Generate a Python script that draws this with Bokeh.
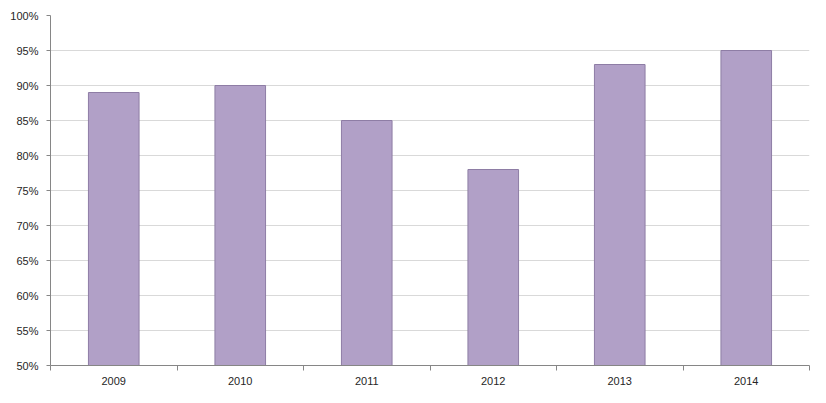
from bokeh.plotting import figure
from bokeh.models import FixedTicker, NumeralTickFormatter, Range1d, ColumnDataSource
from bokeh.embed import file_html
from bokeh.resources import INLINE

years = ["2009", "2010", "2011", "2012", "2013", "2014"]
values = [0.89, 0.90, 0.85, 0.78, 0.93, 0.95]
y_ticks = [0.50, 0.55, 0.60, 0.65, 0.70, 0.75, 0.80, 0.85, 0.90, 0.95, 1.00]

xpos = [i + 0.5 for i in range(len(years))]
src = ColumnDataSource(dict(x=xpos, top=values, year=years))

p = figure(width=810, height=387, output_backend="svg", toolbar_location=None,
           x_range=Range1d(0, len(years)), y_range=Range1d(0.5, 1.0),
           min_border_left=50, min_border_right=1, min_border_top=15, min_border_bottom=18)
p.outline_line_color = None
p.background_fill_color = "white"

p.vbar(x="x", top="top", bottom=0.5, width=0.4, source=src,
       fill_color="#B1A0C7", line_color="#8E7DA5", line_width=1)

font = "Liberation Sans"
p.xaxis.ticker = FixedTicker(ticks=xpos, minor_ticks=list(range(len(years) + 1)))
p.xaxis.major_label_overrides = {x: y for x, y in zip(xpos, years)}
p.xaxis.major_tick_line_color = None
p.xaxis.major_tick_out = 0
p.xaxis.major_tick_in = 0
p.xaxis.minor_tick_line_color = "#868686"
p.xaxis.minor_tick_out = 5
p.xaxis.minor_tick_in = 0
p.xaxis.axis_line_color = "#868686"
p.xaxis.major_label_text_font = font
p.xaxis.major_label_text_font_size = "11px"
p.xaxis.major_label_text_color = "#262626"
p.xaxis.major_label_standoff = 6

p.yaxis.ticker = FixedTicker(ticks=y_ticks)
p.yaxis.formatter = NumeralTickFormatter(format="0%")
p.yaxis.axis_line_color = "#868686"
p.yaxis.major_tick_line_color = "#868686"
p.yaxis.major_tick_out = 4
p.yaxis.major_tick_in = 0
p.yaxis.minor_tick_line_color = None
p.yaxis.major_label_text_font = font
p.yaxis.major_label_text_font_size = "11px"
p.yaxis.major_label_text_color = "#262626"
p.yaxis.major_label_standoff = 8

p.xgrid.grid_line_color = None
p.ygrid.grid_line_color = "#D9D9D9"
p.ygrid.ticker = FixedTicker(ticks=y_ticks)

open("out.html", "w").write(file_html(p, INLINE))
